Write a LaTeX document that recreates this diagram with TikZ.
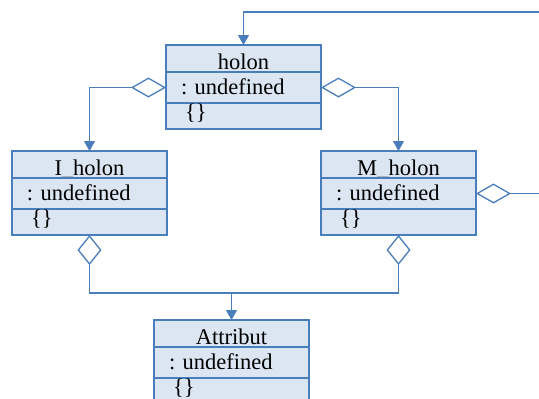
\documentclass[tikz,border=0pt]{standalone}
\usepackage{fontspec}
\setmainfont{Liberation Serif}
\usepackage{xcolor}
\usepackage{tikz}
\usetikzlibrary{arrows.meta, positioning}

\definecolor{umlblue}{HTML}{4A7EBB}
\definecolor{umlfill}{HTML}{DCE6F2}
\frenchspacing

\begin{document}
\begin{tikzpicture}[
        x=1pt, y=-1pt,
        cname/.style={rectangle, draw=umlblue, line width=1.3pt, fill=umlfill, outer sep=0pt, minimum width=155pt, text width=147pt, inner xsep=4pt, inner ysep=3pt, align=center, text height=21pt, text depth=0pt, font=\fontsize{22.5}{26}\selectfont},
        cattr/.style={cname, text width=125pt, inner xsep=15pt, align=left, text height=19pt, text depth=6pt},
        cops/.style={cname, text width=117pt, inner xsep=19pt, align=left, text height=13pt, text depth=7pt},
        link/.style={draw=umlblue, line width=1.3pt},
        aggarrow/.style={link, {Diamond[open, fill=white, length=35pt, width=20pt]}-{Triangle[length=10pt, width=11pt]}},
        agg/.style={link, {Diamond[open, fill=white, length=30pt, width=24pt]}-},
        arrow/.style={link, -{Triangle[length=10pt, width=11pt]}}
    ]
        \useasboundingbox (0,0) rectangle (539,399);
        \clip (0,0) rectangle (539,399);

        % holon
        \node[cname, anchor=north west] (holon) at (166,45) {holon};
        \node[cattr, below=0pt of holon] (holon-attr) {: undefined};
        \node[cops, below=0pt of holon-attr] (holon-ops) {\{\}};

        % I_holon
        \node[cname, anchor=north west] (Iholon) at (12,151) {I\_holon};
        \node[cattr, below=0pt of Iholon] (Iholon-attr) {: undefined};
        \node[cops, below=0pt of Iholon-attr] (Iholon-ops) {\{\}};

        % M_holon
        \node[cname, anchor=north west] (Mholon) at (321,151) {M\_holon};
        \node[cattr, below=0pt of Mholon] (Mholon-attr) {: undefined};
        \node[cops, below=0pt of Mholon-attr] (Mholon-ops) {\{\}};

        % Attribut
        \node[cname, anchor=north west] (attribut) at (154,320) {Attribut};
        \node[cattr, below=0pt of attribut] (attribut-attr) {: undefined};
        \node[cops, below=0pt of attribut-attr] (attribut-ops) {\{\}};

        % Aggregations between holons
        \coordinate (loop) at (560,12);
        \draw[aggarrow] (Mholon-attr.east) -| (loop) -| (holon.north);
        \draw[aggarrow] (holon-attr.east) -| (Mholon.north);
        \draw[aggarrow] (holon-attr.west) -| (Iholon.north);

        % Aggregations to Attribut
        \coordinate[above=27pt of attribut] (join);
        \draw[agg] (Iholon-ops.south) |- (join);
        \draw[agg] (Mholon-ops.south) |- (join);
        \draw[arrow] (join) -- (attribut);

    \end{tikzpicture}
\end{document}
